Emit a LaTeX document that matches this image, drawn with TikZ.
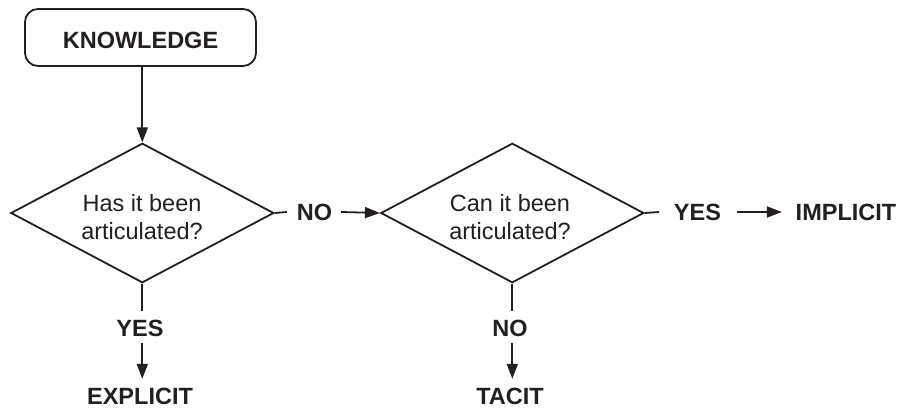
\documentclass[tikz,border=0pt]{standalone}
\usepackage{fontspec}
\setmainfont{Liberation Sans}
\usetikzlibrary{shapes.geometric,arrows.meta}
\definecolor{ink}{HTML}{231F20}
\begin{document}
\begin{tikzpicture}[x=1pt,y=-1pt,line width=1.8pt,color=ink,
  arr/.style={-{Triangle[length=15pt,width=11pt]}},
  lbl/.style={inner sep=0pt,font=\fontsize{23.5}{28}\selectfont\bfseries},
  decision/.style={draw,diamond,minimum width=263pt,minimum height=139.5pt,inner sep=0pt},
  qtext/.style={inner sep=0pt,align=center,font=\fontsize{23.5}{27.5}\selectfont},
  startbox/.style={draw,rectangle,rounded corners=13pt,minimum width=231pt,minimum height=57pt,
    inner sep=0pt,text height=22.5pt,text depth=0pt,font=\fontsize{23.5}{28}\selectfont\bfseries}
]
\useasboundingbox (0,0) rectangle (903,409);
\node[startbox] (know) at (140.5,37.5) {KNOWLEDGE};
\node[decision] (d1) at (142.3,213) {};
\node[qtext] (q1) at (142,217) {Has it been\\articulated?};
\node[decision] (d2) at (512.3,213) {};
\node[qtext] (q2) at (510,217) {Can it been\\articulated?};
\node[lbl] (no1) at (314.5,212) {NO};
\node[lbl] (yes2) at (697.5,212) {YES};
\node[lbl] (impl) at (846,212) {IMPLICIT};
\node[lbl] (yes1) at (140,328) {YES};
\node[lbl] (expl) at (140,396) {EXPLICIT};
\node[lbl] (no2) at (510,328) {NO};
\node[lbl] (tacit) at (510,396) {TACIT};
\draw[arr] (know.south -| d1.north) -- (d1.north);
\draw (d1.east) -- ([xshift=-9pt]no1.west);
\draw[arr] ([xshift=8pt]no1.east) -- (d2.west);
\draw (d2.east) -- ([xshift=-14pt]yes2.west);
\draw[arr] ([xshift=15pt]yes2.east) -- ([xshift=-13pt]impl.west);
\draw[shorten >=8pt] (d1.south) -- (d1.south |- yes1.north);
\draw[arr,shorten <=6pt,shorten >=8pt] (d1.south |- yes1.south) -- (d1.south |- expl.north);
\draw[shorten >=8pt] (d2.south) -- (d2.south |- no2.north);
\draw[arr,shorten <=6pt,shorten >=8pt] (d2.south |- no2.south) -- (d2.south |- tacit.north);
\end{tikzpicture}
\end{document}
